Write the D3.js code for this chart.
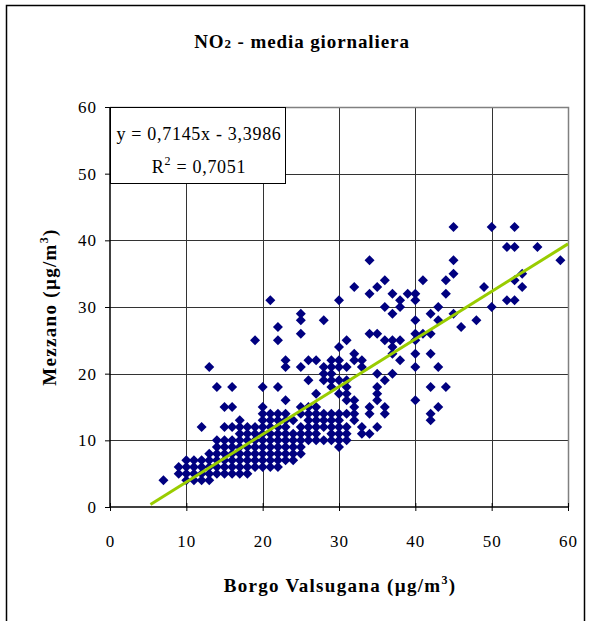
<!DOCTYPE html>
<html>
<head>
<meta charset="utf-8">
<script src="https://cdn.jsdelivr.net/npm/d3@7"></script>
<style>
  body { margin: 0; background: #fff; }
  svg { display: block; }
  text { font-family: "Liberation Serif", "Times New Roman", serif; fill: #000; }
</style>
</head>
<body>
<svg id="chart" width="591" height="621"></svg>
<script>
// Daily NO2 means (µg/m³): Borgo Valsugana (x) vs Mezzano (y)
const borgo = [
  30,32,34,34,35,36,37,38,36,38,39,40,40,41,43,44,45,45,45,44,49,50,50,52,53,53,56,59,53,54,54,52,53,37,40,42,43,45,46,48,21,25,25,28,22,
  34,35,36,37,38,37,37,38,40,40,41,42,40,40,42,43,31,30,32,33,32,30,29,31,33,29,30,35,37,22,19,25,13,23,23,25,26,27,28,28,29,
  36,31,30,29,28,26,31,29,35,42,44,30,31,35,27,31,32,35,40,34,36,32,43,25,26,27,36,34,31,32,29,30,42,25,26,27,28,32,29,30,42,26,27,28,24,
  14,16,20,22,23,15,16,20,20,21,22,23,20,21,22,23,17,
  33,35,31,30,29,28,27,26,25,12,15,16,17,18,19,34,33,31,30,29,25,24,26,27,31,30,29,28,27,26,25,24,14,30,23,
  10,10,10,10,11,11,11,11,12,12,12,12,13,13,13,13,13,14,14,14,14,14,
  15,15,15,15,15,15,16,16,16,16,16,16,17,17,17,17,17,17,17,18,18,18,18,18,18,18,
  19,19,19,19,19,19,20,20,20,20,20,20,20,21,21,21,21,21,21,21,22,22,22,22,22,22,22,
  23,23,23,23,23,24,24,24,25,25,7,9,9
];
const mezzano = [
  31,33,37,32,33,34,32,31,30,30,32,32,31,34,30,34,35,37,42,32,33,42,30,39,39,42,39,37,34,35,33,31,31,29,28,29,28,29,27,28,31,29,28,28,27,
  26,26,25,25,25,24,23,22,26,25,26,26,23,21,23,21,25,24,23,22,22,22,22,21,21,21,21,20,20,25,25,26,21,22,21,21,22,22,21,20,20,
  19,19,19,19,19,19,18,18,18,18,18,17,17,17,17,16,16,16,16,15,15,15,15,15,15,15,14,14,14,14,14,14,14,14,14,14,14,13,13,13,13,13,13,13,13,
  18,18,18,18,16,15,15,15,14,14,14,14,13,13,13,13,13,
  12,12,12,12,12,12,12,12,12,12,12,12,12,12,12,11,11,11,11,11,11,11,11,11,10,10,10,10,10,10,10,10,10,9,9,
  4,5,6,7,4,5,6,7,4,5,6,7,4,5,6,7,8,5,6,7,8,9,
  5,6,7,8,9,10,5,6,7,8,9,10,5,6,7,8,9,10,11,5,6,7,8,9,10,11,
  6,7,8,9,10,11,6,7,8,9,10,11,12,6,7,8,9,10,11,12,6,7,8,9,10,11,12,
  7,8,10,11,12,7,8,9,8,9,4,5,6
];
const xTicks = [0, 10, 20, 30, 40, 50, 60];
const yTicks = [0, 10, 20, 30, 40, 50, 60];
const trendSlope = 0.7145;
const trendIntercept = -3.3986;
const rSquared = 0.7051;
const trendRange = [5.3, 60];

const svg = d3.select("#chart");
const plot = { left: 110, top: 107, right: 568, bottom: 507 };

const x = d3.scaleLinear().domain([0, 60]).range([plot.left, plot.right]);
const y = d3.scaleLinear().domain([0, 60]).range([plot.bottom, plot.top]);

// Outer chart frame
svg.append("rect")
  .attr("x", 6.5).attr("y", 5.5)
  .attr("width", 578).attr("height", 660)
  .attr("fill", "#fff").attr("stroke", "#000").attr("stroke-width", 1.5);

// Title
const title = svg.append("text")
  .attr("x", 302).attr("y", 48)
  .attr("text-anchor", "middle")
  .style("font-size", "19px").style("font-weight", "bold").style("letter-spacing", "0.9px");
title.append("tspan").text("NO");
title.append("tspan").style("font-size", "13px").text("2");
title.append("tspan").text(" - media giornaliera");

// Gridlines
const grid = svg.append("g");
grid.selectAll("line.h").data(yTicks.filter(d => d > 0 && d < 60)).join("line")
  .attr("x1", plot.left).attr("x2", plot.right)
  .attr("y1", d => Math.round(y(d)) + 0.5).attr("y2", d => Math.round(y(d)) + 0.5)
  .attr("stroke", "#333").attr("stroke-width", 1);
grid.selectAll("line.v").data(xTicks.filter(d => d > 0 && d < 60)).join("line")
  .attr("y1", plot.top).attr("y2", plot.bottom)
  .attr("x1", d => Math.round(x(d)) + 0.5).attr("x2", d => Math.round(x(d)) + 0.5)
  .attr("stroke", "#333").attr("stroke-width", 1);

// Plot border (top / right in grey)
svg.append("path")
  .attr("d", `M${plot.left},${plot.top + 0.5}H${plot.right + 0.5}V${plot.bottom}`)
  .attr("fill", "none").attr("stroke", "#808080").attr("stroke-width", 1.5);

// Axes
const yAxis = svg.append("g")
  .attr("transform", `translate(${plot.left},0)`)
  .call(d3.axisLeft(y).tickValues(yTicks).tickSize(5).tickPadding(8).tickFormat(d3.format("d")));
const xAxis = svg.append("g")
  .attr("transform", `translate(0,${plot.bottom})`)
  .call(d3.axisBottom(x).tickValues(xTicks).tickSize(4).tickPadding(24).tickFormat(d3.format("d")));
[xAxis, yAxis].forEach(g => {
  g.select(".domain").remove();
  g.selectAll("text").style("font-size", "17px").style("letter-spacing", "1px").attr("fill", "#000");
  g.selectAll("line").attr("stroke", "#000");
});
xAxis.selectAll(".tick line").attr("y1", -4).attr("y2", 4);

svg.append("line")
  .attr("x1", plot.left).attr("x2", plot.left)
  .attr("y1", plot.top).attr("y2", plot.bottom)
  .attr("stroke", "#000").attr("stroke-width", 1.5);
svg.append("line")
  .attr("x1", plot.left).attr("x2", plot.right)
  .attr("y1", plot.bottom).attr("y2", plot.bottom)
  .attr("stroke", "#000").attr("stroke-width", 1.5);

// Data points as navy diamonds
const diamond = d3.symbol().type(d3.symbolSquare).size(50);
svg.append("g").selectAll("path").data(d3.range(borgo.length)).join("path")
  .attr("d", diamond)
  .attr("transform", i => `translate(${x(borgo[i])},${y(mezzano[i])}) rotate(45)`)
  .attr("fill", "#000080");

// Linear trend line
const trendLine = d3.line().x(d => x(d)).y(d => y(trendSlope * d + trendIntercept));
svg.append("path")
  .attr("d", trendLine(trendRange))
  .attr("fill", "none").attr("stroke", "#99CC00").attr("stroke-width", 3);

// Regression label box
const fmt = v => String(v).replace(".", ",");
svg.append("rect")
  .attr("x", 110.5).attr("y", 107.5).attr("width", 175).attr("height", 76)
  .attr("fill", "#fff").attr("stroke", "#000").attr("stroke-width", 1);
svg.append("text")
  .attr("x", 199).attr("y", 140).attr("text-anchor", "middle")
  .style("font-size", "18px").style("letter-spacing", "0.7px")
  .text(`y = ${fmt(trendSlope)}x - ${fmt(Math.abs(trendIntercept))}`);
const r2Text = svg.append("text")
  .attr("x", 199).attr("y", 173).attr("text-anchor", "middle")
  .style("font-size", "18px").style("letter-spacing", "0.7px");
r2Text.append("tspan").text("R");
r2Text.append("tspan").attr("dy", -8).style("font-size", "12px").text("2");
r2Text.append("tspan").attr("dy", 8).text(` = ${fmt(rSquared)}`);

// Axis titles
function unitTitle(sel, label) {
  sel.style("font-size", "19px").style("font-weight", "bold").style("letter-spacing", "1.3px");
  sel.append("tspan").text(`${label} (µg/m`);
  sel.append("tspan").attr("dy", -8).style("font-size", "12px").text("3");
  sel.append("tspan").attr("dy", 8).text(")");
}
unitTitle(svg.append("text").attr("x", 340).attr("y", 592).attr("text-anchor", "middle"), "Borgo Valsugana");
unitTitle(svg.append("text")
  .attr("transform", "translate(56,307) rotate(-90)")
  .attr("text-anchor", "middle"), "Mezzano");
</script>
</body>
</html>
